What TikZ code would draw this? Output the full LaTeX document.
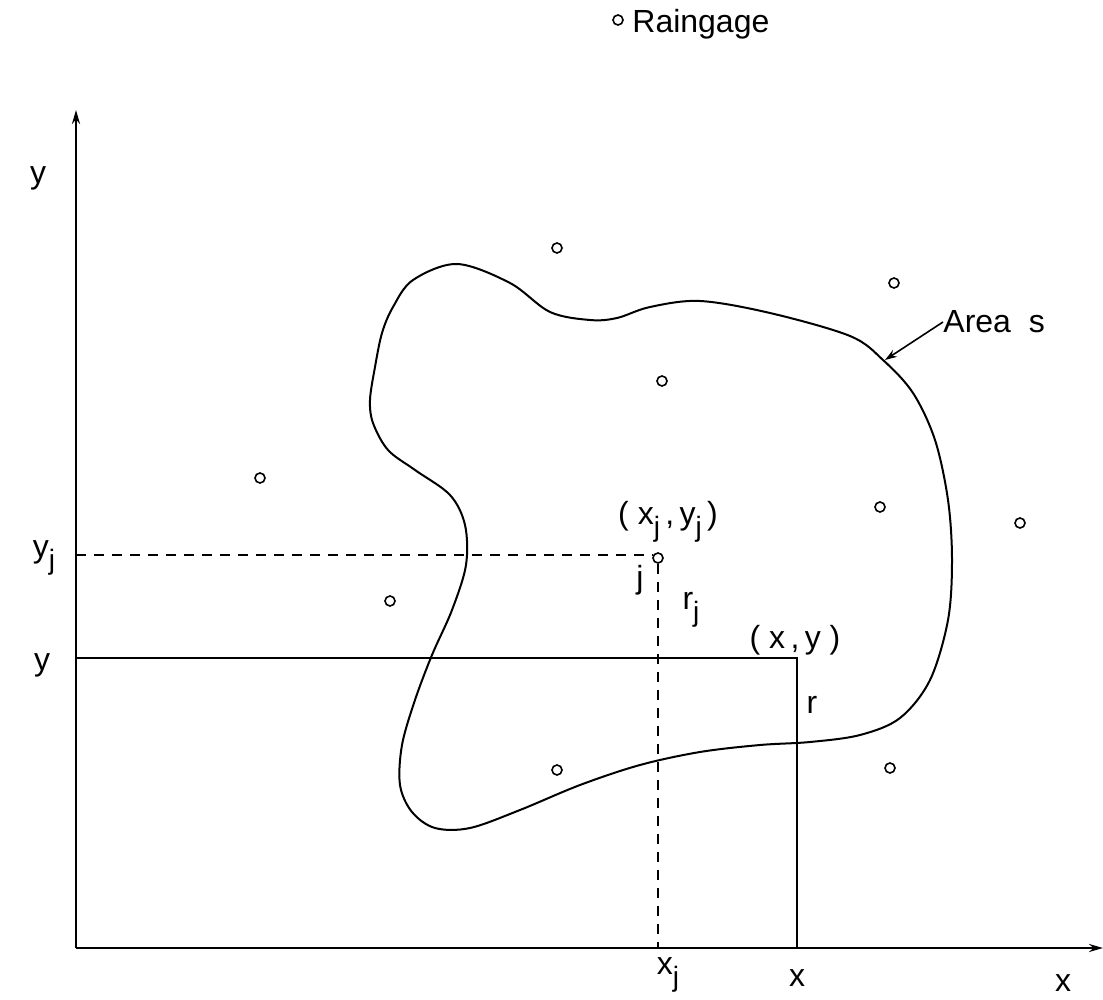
\documentclass[tikz,border=0pt]{standalone}
\usepackage{fontspec}
\setmainfont{Liberation Sans}
\usetikzlibrary{arrows.meta}
\newcommand\sbj{\raisebox{-0.7ex}{\fontsize{14}{14}\selectfont j}}
\begin{document}
\begin{tikzpicture}[x=0.5pt,y=-0.5pt,
  gage/.style={circle,draw,line width=0.8pt,minimum size=5pt,inner sep=0pt},
  lbl/.style={inner sep=0pt,font=\fontsize{16}{18}\selectfont},
  axis/.style={line width=1.1pt,-{Stealth[length=7pt,width=4pt,open]}},
  guide/.style={line width=0.8pt,dash pattern=on 5pt off 4pt},
  solidguide/.style={line width=0.8pt},
  outline/.style={line width=1pt,line join=round}]
\useasboundingbox (0,0) rectangle (1103,1000);
% legend
\node[gage] (leg) at (618,20) {};
\node[lbl,anchor=west] (legt) at (632,24) {Raingage};
% axes
\coordinate (O) at (76,948);
\coordinate (ytop) at (76,110);
\coordinate (xend) at (1103,948);
\draw[axis] (O) -- (ytop);
\draw[axis] (O) -- (xend);
% area outline
\draw[outline] plot[smooth cycle,tension=0.55] coordinates {
 (457,264) (510,283) (550,312) (590,320) (617,318) (650,307) (700,301)
 (770,313) (850,336) (883,360) (913,393) (935,440) (948,500) (952,560)
 (948,620) (930,680) (900,718) (860,735) (810,742) (760,745) (700,752)
 (640,765) (580,785) (520,810) (470,828) (435,828) (412,812) (400,785)
 (402,745) (415,700) (432,655) (452,610) (466,565) (465,525) (450,495)
 (415,470) (388,450) (373,423) (370,400) (375,367) (382,333) (393,307)
 (413,280)};
% gages
\node[gage] (g1) at (557,248) {};
\node[gage] (g2) at (894,283) {};
\node[gage] (g3) at (662,381) {};
\node[gage] (g4) at (260,478) {};
\node[gage] (g5) at (880,507) {};
\node[gage] (g6) at (1020,523) {};
\node[gage] (g7) at (390,601) {};
\node[gage] (g8) at (557,770) {};
\node[gage] (g9) at (890,768) {};
\node[gage] (gj) at (658,558) {};
% guides
\coordinate (yjax) at (76,555);
\coordinate (xjax) at (658,948);
\coordinate (yax) at (76,658);
\coordinate (P) at (797,658);
\coordinate (xax) at (797,948);
\draw[guide] (yjax) -- (gj.west |- yjax);
\draw[guide] (gj.south) -- (xjax);
\draw[solidguide] (yax) -- (P) -- (xax);
% labels
\node[lbl] (ly) at (38,178) {y};
\node[lbl] (lyj) at (44,558) {y\sbj};
\node[lbl] (ly2) at (42,665) {y};
\node[lbl] (lxjyj) at (668,522) {( x\sbj\,,\,y\sbj\,)};
\node[lbl] (lj) at (640,580) {j};
\node[lbl] (lrj) at (691,610) {r\sbj};
\node[lbl] (lxy) at (795,640) {( x\,,\,y )};
\node[lbl] (lr) at (812,705) {r};
\node[lbl] (lxj) at (668,975) {x\sbj};
\node[lbl] (lx) at (797,978) {x};
\node[lbl] (lX) at (1063,983) {x};
\node[lbl,anchor=west] (larea) at (943,322) {Area\ \ s};
\coordinate (aimp) at (885,360);
\draw[line width=0.8pt,-{Stealth[length=6pt,width=4pt,open]}] (larea.west) -- (aimp);
\end{tikzpicture}
\end{document}
